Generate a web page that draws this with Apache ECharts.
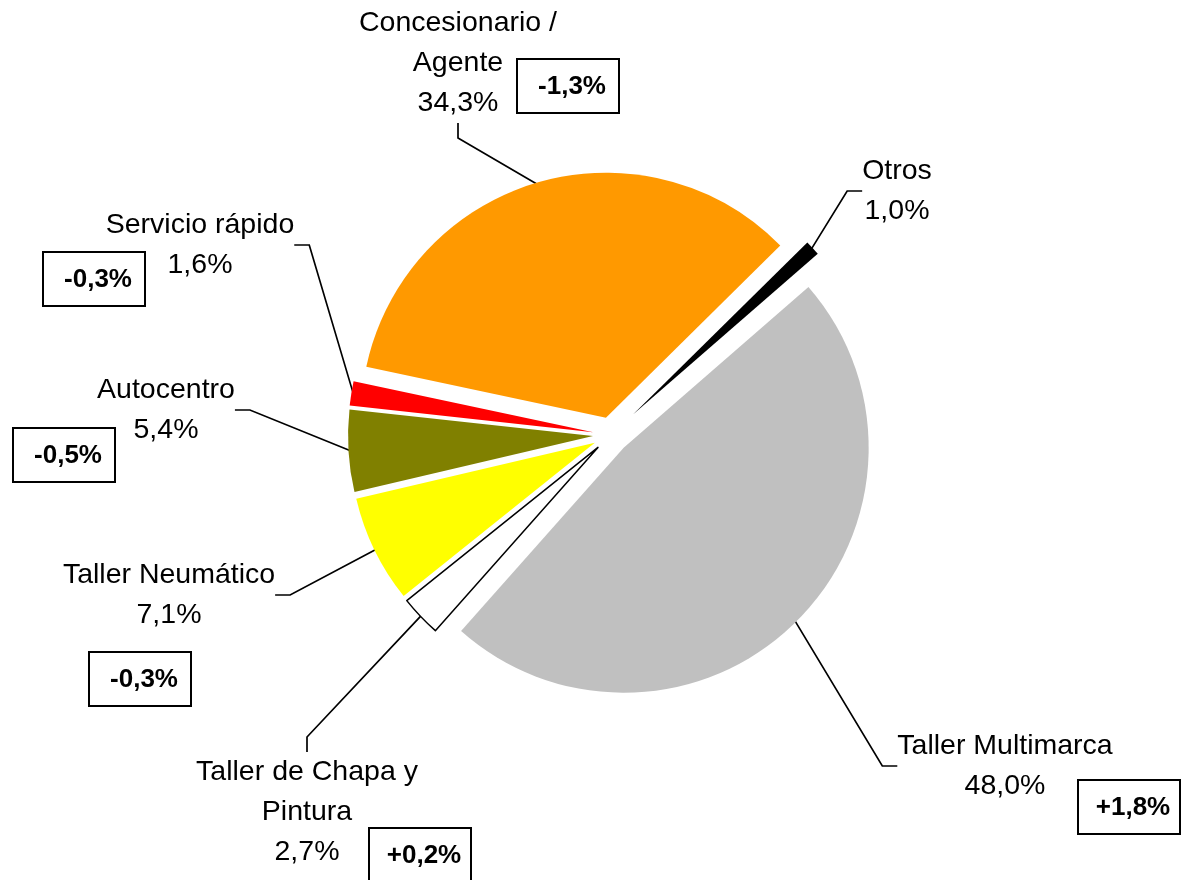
<!DOCTYPE html>
<html>
<head>
<meta charset="utf-8">
<script src="https://cdn.jsdelivr.net/npm/echarts@6/dist/echarts.min.js"></script>
<style>
  html, body { margin: 0; padding: 0; background: #fff; }
  #chart { width: 1181px; height: 880px; }
</style>
</head>
<body>
<div id="chart"></div>
<script>
// shares of each channel (%) and change vs previous period (points)
const categories = ['Concesionario /\nAgente', 'Otros', 'Taller Multimarca', 'Taller de Chapa y\nPintura', 'Taller Neumático', 'Autocentro', 'Servicio rápido'];
const shares = [34.3, 1.0, 48.0, 2.7, 7.1, 5.4, 1.6];
const changes = [-1.3, null, 1.8, 0.2, -0.3, -0.5, -0.3];

// layout / style
const colors = ['#ff9900', '#000000', '#c0c0c0', '#ffffff', '#ffff00', '#808000', '#ff0000'];
const labelPos = [[458, 63], [897, 191], [1005, 766], [307, 812], [169, 595], [166, 410], [200, 245]];
const boxPos = [[517, 59], null, [1078, 780], [369, 828], [89, 652], [13, 428], [43, 252]];
const OTROS = 1;
const CENTER = [611, 435];
const R = 245;

const fmt = v => v.toFixed(1).replace('.', ',') + '%';
const fmtChange = v => (v > 0 ? '+' : '') + fmt(v);

// visible (exploded) slices, no labels
function sliceSeries(offset, showIdx) {
    return {
        type: 'pie',
        z: 3,
        center: CENTER,
        radius: R,
        startAngle: 168,
        selectedMode: 'multiple',
        selectedOffset: offset,
        silent: true,
        animation: false,
        label: { show: false },
        labelLine: { show: false },
        data: categories.map((name, i) => ({
            name: name,
            value: shares[i],
            selected: true,
            itemStyle: showIdx(i)
                ? { color: colors[i], borderColor: '#000', borderWidth: i === 3 ? 1.5 : 0 }
                : { color: 'rgba(0,0,0,0)', borderWidth: 0 }
        }))
    };
}

// transparent slices underneath that only carry the labels + leader lines
function labelSeries(radius, showIdx) {
    return {
        type: 'pie',
        z: 2,
        center: CENTER,
        radius: radius,
        startAngle: 168,
        silent: true,
        animation: false,
        avoidLabelOverlap: false,
        label: {
            position: 'outside',
            formatter: p => p.name + '\n' + fmt(p.value),
            fontFamily: 'Liberation Sans, Arial, sans-serif',
            fontSize: 28.5,
            lineHeight: 40,
            color: '#000',
            align: 'center'
        },
        labelLine: {
            length: 15,
            length2: 15,
            lineStyle: { color: '#000', width: 1.7 }
        },
        labelLayout: params => ({
            x: labelPos[params.dataIndex][0],
            y: labelPos[params.dataIndex][1],
            align: 'center',
            verticalAlign: 'middle'
        }),
        data: categories.map((name, i) => ({
            name: name,
            value: shares[i],
            itemStyle: { color: 'rgba(0,0,0,0)', borderWidth: 0 },
            label: { show: showIdx(i) },
            labelLine: { show: showIdx(i) }
        }))
    };
}

const notOtros = i => i !== OTROS;
const isOtros = i => i === OTROS;

const boxes = [];
changes.forEach((c, i) => {
    if (c === null) return;
    const [x, y] = boxPos[i];
    boxes.push({
        type: 'group',
        x: x,
        y: y,
        children: [
            {
                type: 'rect',
                shape: { x: 0, y: 0, width: 102, height: 54 },
                style: { fill: '#fff', stroke: '#000', lineWidth: 2 }
            },
            {
                type: 'text',
                x: 55,
                y: 28,
                style: {
                    text: fmtChange(c),
                    font: 'bold 26px "Liberation Sans", Arial, sans-serif',
                    fill: '#000',
                    align: 'center',
                    verticalAlign: 'middle'
                }
            }
        ]
    });
});

const chart = echarts.init(document.getElementById('chart'));
chart.setOption({
    animation: false,
    series: [
        labelSeries(R + 16, notOtros),
        labelSeries(R + 28, isOtros),
        sliceSeries(18, notOtros),
        sliceSeries(30, isOtros)
    ],
    graphic: boxes
});
window.addEventListener('resize', () => chart.resize());
</script>
</body>
</html>
